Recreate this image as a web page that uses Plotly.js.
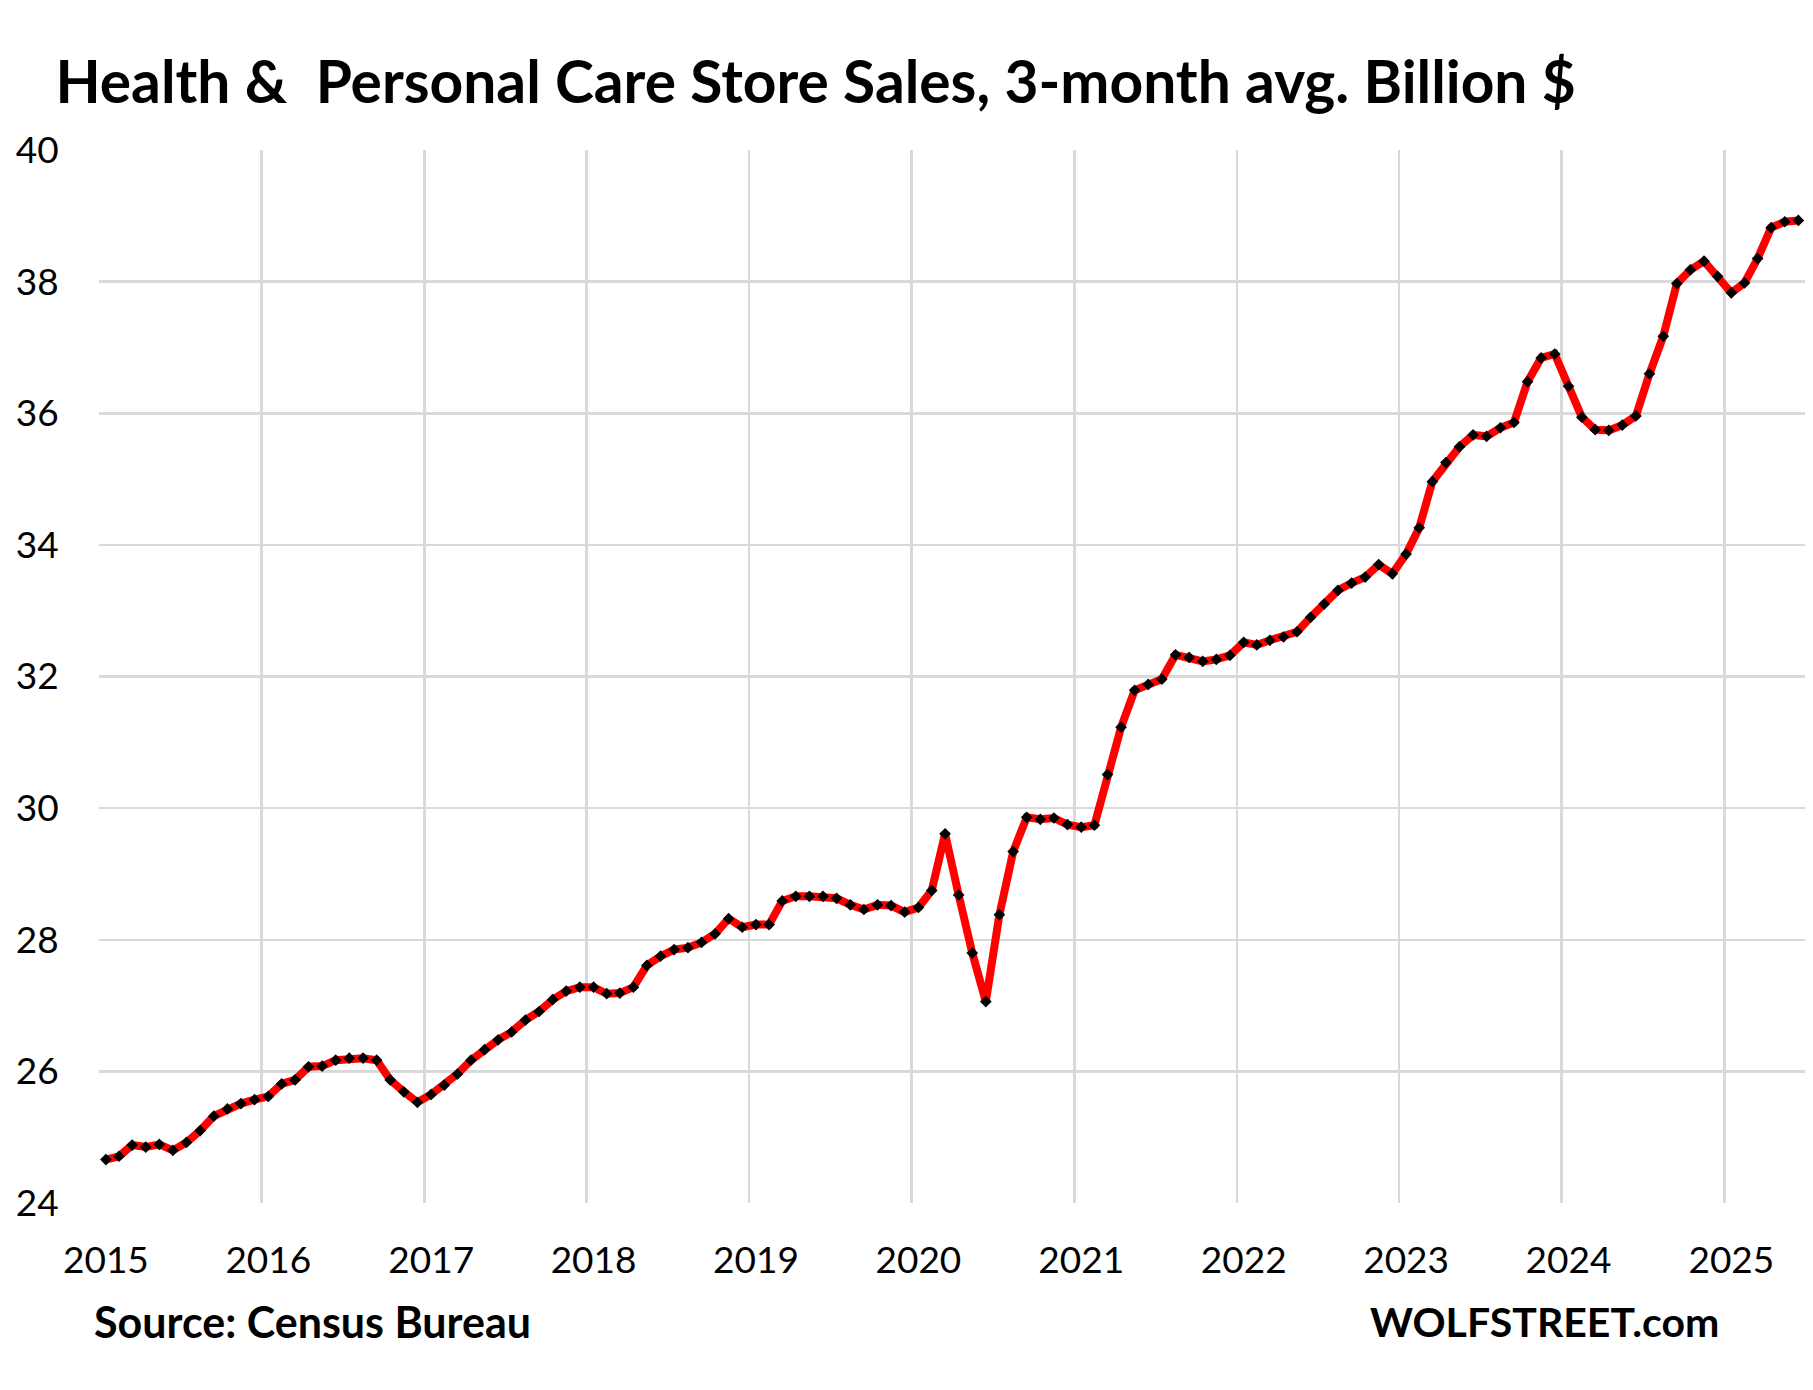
<!DOCTYPE html>
<html>
<head>
<meta charset="utf-8">
<script src="https://cdn.plot.ly/plotly-3.0.1.min.js"></script>
<style>html,body{margin:0;padding:0;background:#fff;}#chart{width:1813px;height:1390px;}</style>
</head>
<body>
<div id="chart"></div>
<script>
// Monthly values, Billion $ (3-month average)
const months = ["01","02","03","04","05","06","07","08","09","10","11","12"];
const years = [2015,2016,2017,2018,2019,2020,2021,2022,2023,2024,2025];
const yearLabels = ["2015","2016","2017","2018","2019","2020","2021","2022","2023","2024","2025"];
const v2015 = [24.66,24.71,24.88,24.85,24.89,24.80,24.92,25.10,25.32,25.43,25.51,25.57];
const v2016 = [25.62,25.81,25.87,26.07,26.08,26.17,26.20,26.20,26.17,25.87,25.69,25.53];
const v2017 = [25.65,25.79,25.96,26.17,26.33,26.48,26.60,26.78,26.91,27.09,27.22,27.28];
const v2018 = [27.28,27.18,27.19,27.28,27.61,27.75,27.85,27.88,27.96,28.09,28.32,28.19];
const v2019 = [28.23,28.23,28.59,28.66,28.66,28.66,28.63,28.53,28.46,28.53,28.52,28.42];
const v2020 = [28.49,28.75,29.61,28.68,27.80,27.06,28.38,29.34,29.86,29.83,29.85,29.75];
const v2021 = [29.71,29.74,30.51,31.23,31.79,31.88,31.96,32.33,32.29,32.23,32.26,32.32];
const v2022 = [32.52,32.48,32.55,32.60,32.68,32.90,33.10,33.31,33.42,33.51,33.70,33.56];
const v2023 = [33.86,34.26,34.96,35.25,35.49,35.67,35.65,35.78,35.86,36.48,36.84,36.90];
const v2024 = [36.41,35.94,35.75,35.74,35.82,35.96,36.60,37.17,37.97,38.18,38.31,38.08];
const v2025 = [37.83,37.98,38.35,38.82,38.91,38.93];
const yTicks = [24,26,28,30,32,34,36,38,40];

const perYear = [v2015,v2016,v2017,v2018,v2019,v2020,v2021,v2022,v2023,v2024,v2025];
const xs = [], ys = [];
perYear.forEach((arr, i) => {
  arr.forEach((v, m) => { xs.push(years[i] + "-" + months[m] + "-01"); ys.push(v); });
});
const tickVals = years.map(y => y + "-01-16 12:00");

const FONT = "Lato, 'Open Sans', sans-serif";

const trace = {
  x: xs, y: ys, type: "scatter", mode: "lines+markers",
  xperiod: "M1", xperiodalignment: "middle",
  line: {color: "#ff0000", width: 8},
  marker: {symbol: "diamond", size: 9, color: "#000000"},
  hoverinfo: "x+y"
};

const layout = {
  width: 1813, height: 1390, autosize: false,
  margin: {l: 99, r: 8, t: 150, b: 187},
  paper_bgcolor: "#ffffff", plot_bgcolor: "#ffffff",
  showlegend: false,
  title: {
    text: "<b>Health &\u00a0 Personal Care Store Sales, 3-month avg. Billion $</b>",
    font: {family: FONT, size: 58.7, color: "#000000"},
    x: 0.0306, xanchor: "left", xref: "container",
    y: 0.941, yanchor: "middle", yref: "container"
  },
  xaxis: {
    type: "date",
    range: ["2015-01-01", "2025-07-01"],
    tickmode: "array", tickvals: tickVals, ticktext: yearLabels,
    showgrid: false, zeroline: false, showline: false,
    ticks: "outside", ticklen: 25, tickcolor: "rgba(0,0,0,0)",
    tickfont: {family: FONT, size: 37, color: "#000000"},
    minor: {tickmode: "linear", tick0: "2015-01-01", dtick: "M12", showgrid: true, gridcolor: "#d9d9d9", gridwidth: 2.5, ticks: ""}
  },
  yaxis: {
    range: [24, 40], tickmode: "array", tickvals: yTicks,
    showgrid: true, gridcolor: "#d9d9d9", gridwidth: 2.5,
    zeroline: false, showline: false,
    ticks: "outside", ticklen: 32, tickcolor: "rgba(0,0,0,0)",
    tickfont: {family: FONT, size: 37, color: "#000000"}
  },
  annotations: [
    {text: "<b>Source: Census Bureau</b>", xref: "paper", yref: "paper", x: -0.004, y: -0.1127,
     xanchor: "left", yanchor: "middle", showarrow: false, font: {family: FONT, size: 43, color: "#000000"}},
    {text: "<b>WOLFSTREET.com</b>", xref: "paper", yref: "paper", x: 0.951, y: -0.1127,
     xanchor: "right", yanchor: "middle", showarrow: false, font: {family: FONT, size: 41, color: "#000000"}}
  ]
};

Plotly.newPlot("chart", [trace], layout, {displayModeBar: false, staticPlot: true});
</script>
</body>
</html>
